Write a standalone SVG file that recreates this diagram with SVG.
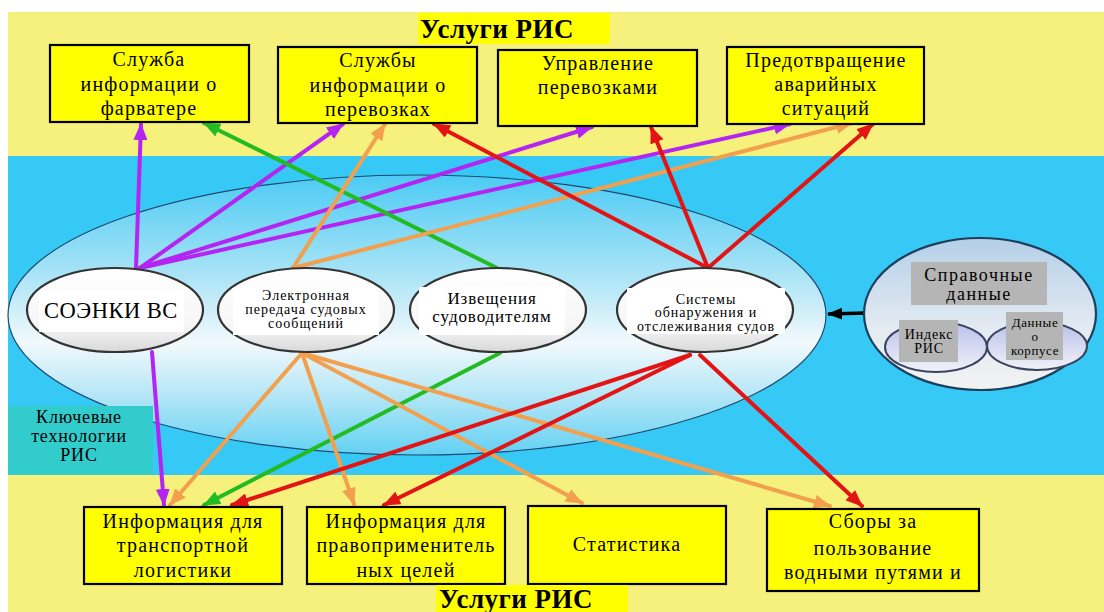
<svg xmlns="http://www.w3.org/2000/svg" width="1104" height="612" viewBox="0 0 1104 612">
<style>
.box{fill:#ffff00;stroke:#000;stroke-width:2.2}
.t{font-family:'Liberation Serif','DejaVu Serif',serif;fill:#000;text-anchor:middle}
.bt{font-size:20px;letter-spacing:1.2px}
.st{font-size:14px;letter-spacing:1px}
.ttl{font-family:'Liberation Serif','DejaVu Serif',serif;font-weight:bold;font-size:27px;letter-spacing:0.5px;fill:#000}
.sm{fill:url(#gSmall);stroke:#333;stroke-width:2.2}
.wl{fill:#fff}
.gr{fill:#b5b5b5}
.c{fill:none;stroke-width:4;stroke-linecap:round}
.pu{stroke:#b424f2;marker-end:url(#aPu)}
.gn{stroke:#22bb22;marker-end:url(#aGn)}
.or{stroke:#f2a04e;marker-end:url(#aOr)}
.rd{stroke:#e21414;marker-end:url(#aRd)}
</style>
<defs>
<linearGradient id="gBig" x1="0" y1="0" x2="0" y2="1">
<stop offset="0" stop-color="#4ccbf4"/>
<stop offset="0.35" stop-color="#a8e3f6"/>
<stop offset="0.6" stop-color="#f2f9fc"/>
<stop offset="0.8" stop-color="#b0e5f6"/>
<stop offset="1" stop-color="#62d1f4"/>
</linearGradient>
<linearGradient id="gSmall" x1="0" y1="0" x2="0" y2="1">
<stop offset="0" stop-color="#ffffff"/>
<stop offset="0.7" stop-color="#f6f6f6"/>
<stop offset="1" stop-color="#d8d8d8"/>
</linearGradient>
<linearGradient id="gRef" x1="0" y1="0" x2="0" y2="1">
<stop offset="0" stop-color="#b4cfe8"/>
<stop offset="0.6" stop-color="#e4ebf2"/>
<stop offset="1" stop-color="#f2f2f2"/>
</linearGradient>
<linearGradient id="gIn" x1="0" y1="0" x2="0" y2="1">
<stop offset="0" stop-color="#b8c0ea"/>
<stop offset="1" stop-color="#f2f2f8"/>
</linearGradient>
<marker id="aPu" markerUnits="userSpaceOnUse" markerWidth="18" markerHeight="14" refX="16" refY="7" orient="auto"><path d="M0,0 L17,7 L0,14 z" fill="#b424f2"/></marker>
<marker id="aGn" markerUnits="userSpaceOnUse" markerWidth="18" markerHeight="14" refX="16" refY="7" orient="auto"><path d="M0,0 L17,7 L0,14 z" fill="#22bb22"/></marker>
<marker id="aOr" markerUnits="userSpaceOnUse" markerWidth="18" markerHeight="14" refX="16" refY="7" orient="auto"><path d="M0,0 L17,7 L0,14 z" fill="#f2a04e"/></marker>
<marker id="aRd" markerUnits="userSpaceOnUse" markerWidth="18" markerHeight="14" refX="16" refY="7" orient="auto"><path d="M0,0 L17,7 L0,14 z" fill="#e21414"/></marker>
<marker id="aBk" markerUnits="userSpaceOnUse" markerWidth="16" markerHeight="14" refX="14" refY="7" orient="auto"><path d="M0,1 L15,7 L0,13 z" fill="#000"/></marker>
</defs>

<rect x="0" y="0" width="1104" height="612" fill="#ffffff"/>
<rect x="8" y="12" width="1096" height="144" fill="#f6f07c"/>
<rect x="8" y="156" width="1096" height="319" fill="#36c9f5"/>
<rect x="8" y="475" width="1096" height="137" fill="#f6f07c"/>

<g id="core-technologies">
<ellipse cx="417" cy="315" rx="409" ry="140" fill="url(#gBig)" stroke="#1d4a70" stroke-width="1.2"/>
</g>

<g id="connectors">
<path class="c pu" d="M136,268 L141,124"/>
<path class="c pu" d="M140,268 L343,124"/>
<path class="c pu" d="M140,268 L592,127"/>
<path class="c pu" d="M140,268 L790,124"/>
<path class="c pu" d="M152,352 L164,505"/>
<path class="c gn" d="M497,268 L204,123"/>
<path class="c gn" d="M500,353 L204,505"/>
<path class="c or" d="M293,268 L385,124"/>
<path class="c or" d="M293,268 L852,123"/>
<path class="c or" d="M302,353 L170,505"/>
<path class="c or" d="M302,353 L354,504"/>
<path class="c or" d="M302,353 L582,503"/>
<path class="c or" d="M302,353 L830,506"/>
<path class="c rd" d="M708,268 L434,124"/>
<path class="c rd" d="M708,268 L651,127"/>
<path class="c rd" d="M708,268 L873,124"/>
<path class="c rd" d="M690,355 L232,505"/>
<path class="c rd" d="M690,355 L384,505"/>
<path class="c rd" d="M700,355 L862,506"/>
<path d="M866,313 L828,314" fill="none" stroke="#000" stroke-width="3.5" marker-end="url(#aBk)"/>
</g>

<g id="title-top">
<rect x="418" y="13" width="192" height="31" fill="#ffff00"/>
<text class="ttl" x="420" y="38">Услуги РИС</text>
</g>

<g id="svc-fairway">
<rect class="box" x="50" y="45" width="199" height="77"/>
<text class="t bt" x="149" y="66">Служба</text>
<text class="t bt" x="149" y="91">информации о</text>
<text class="t bt" x="149" y="115">фарватере</text>
</g>
<g id="svc-transport-info">
<rect class="box" x="278" y="47" width="199" height="76"/>
<text class="t bt" x="378" y="67">Службы</text>
<text class="t bt" x="378" y="92">информации о</text>
<text class="t bt" x="378" y="116">перевозках</text>
</g>
<g id="svc-traffic-mgmt">
<rect class="box" x="498" y="50" width="199" height="76"/>
<text class="t bt" x="598" y="70">Управление</text>
<text class="t bt" x="598" y="94">перевозками</text>
</g>
<g id="svc-accident">
<rect class="box" x="727" y="47" width="197" height="77"/>
<text class="t bt" x="826" y="67">Предотвращение</text>
<text class="t bt" x="826" y="91">аварийных</text>
<text class="t bt" x="826" y="115">ситуаций</text>
</g>

<g id="tech-ecdis">
<ellipse class="sm" cx="115" cy="310" rx="88" ry="42"/>
<rect class="wl" x="39" y="290" width="145" height="42"/>
<text class="t" x="111" y="318" font-size="22.5" letter-spacing="0.5">СОЭНКИ ВС</text>
</g>
<g id="tech-ers">
<ellipse class="sm" cx="306" cy="310" rx="88" ry="42"/>
<rect class="wl" x="233" y="288" width="146" height="47"/>
<text class="t st" x="306" y="300">Электронная</text>
<text class="t st" x="306" y="314">передача судовых</text>
<text class="t st" x="306" y="328">сообщений</text>
</g>
<g id="tech-nts">
<ellipse class="sm" cx="498" cy="310" rx="88" ry="42"/>
<rect class="wl" x="419" y="287" width="146" height="48"/>
<text class="t" x="492" y="304" font-size="17" letter-spacing="0.9">Извещения</text>
<text class="t" x="492" y="322" font-size="17" letter-spacing="0.9">судоводителям</text>
</g>
<g id="tech-tracking">
<ellipse class="sm" cx="705" cy="310" rx="88" ry="42"/>
<rect class="wl" x="627" y="288" width="158" height="46"/>
<text class="t st" x="706" y="304">Системы</text>
<text class="t st" x="706" y="317">обнаружения и</text>
<text class="t st" x="706" y="331">отслеживания судов</text>
</g>

<g id="reference-data">
<ellipse cx="980" cy="314" rx="116" ry="76" fill="url(#gRef)" stroke="#1d3f5e" stroke-width="2.2"/>
<rect class="gr" x="911" y="262" width="136" height="43"/>
<text class="t" x="979" y="281" font-size="18" letter-spacing="1.5">Справочные</text>
<text class="t" x="979" y="300" font-size="18" letter-spacing="1.5">данные</text>
</g>
<g id="ref-ris-index">
<ellipse cx="936" cy="347" rx="51" ry="25" fill="url(#gIn)" stroke="#3a4460" stroke-width="2"/>
<rect class="gr" x="899" y="320" width="59" height="42"/>
<text class="t" x="929" y="339" font-size="14" letter-spacing="0.8">Индекс</text>
<text class="t" x="929" y="353" font-size="14" letter-spacing="0.8">РИС</text>
</g>
<g id="ref-hull-data">
<ellipse cx="1037" cy="346" rx="50" ry="24" fill="url(#gIn)" stroke="#3a4460" stroke-width="2"/>
<rect class="gr" x="1006" y="312" width="57" height="48"/>
<text class="t" x="1035" y="327" font-size="13" letter-spacing="0.6">Данные</text>
<text class="t" x="1035" y="341" font-size="13" letter-spacing="0.6">о</text>
<text class="t" x="1035" y="355" font-size="13" letter-spacing="0.6">корпусе</text>
</g>

<g id="label-key-tech">
<rect x="8" y="406" width="145" height="69" fill="#33cccc"/>
<text class="t" x="79" y="423" font-size="18" letter-spacing="0.8">Ключевые</text>
<text class="t" x="79" y="442" font-size="18" letter-spacing="0.8">технологии</text>
<text class="t" x="79" y="461" font-size="18" letter-spacing="0.8">РИС</text>
</g>

<g id="svc-logistics">
<rect class="box" x="84" y="507" width="198" height="77"/>
<text class="t bt" x="183" y="528">Информация для</text>
<text class="t bt" x="183" y="552">транспортной</text>
<text class="t bt" x="183" y="577">логистики</text>
</g>
<g id="svc-law">
<rect class="box" x="307" y="507" width="198" height="77"/>
<text class="t bt" x="406" y="528">Информация для</text>
<text class="t bt" x="406" y="552">правоприменитель</text>
<text class="t bt" x="406" y="577">ных целей</text>
</g>
<g id="svc-statistics">
<rect class="box" x="528" y="506" width="198" height="78"/>
<text class="t bt" x="627" y="551">Статистика</text>
</g>
<g id="svc-charges">
<rect class="box" x="767" y="509" width="212" height="82"/>
<text class="t bt" x="873" y="528">Сборы за</text>
<text class="t bt" x="873" y="555">пользование</text>
<text class="t bt" x="873" y="579">водными путями и</text>
</g>

<g id="title-bottom">
<rect x="436" y="585" width="192" height="27" fill="#ffff00"/>
<text class="ttl" x="439" y="608">Услуги РИС</text>
</g>
</svg>
